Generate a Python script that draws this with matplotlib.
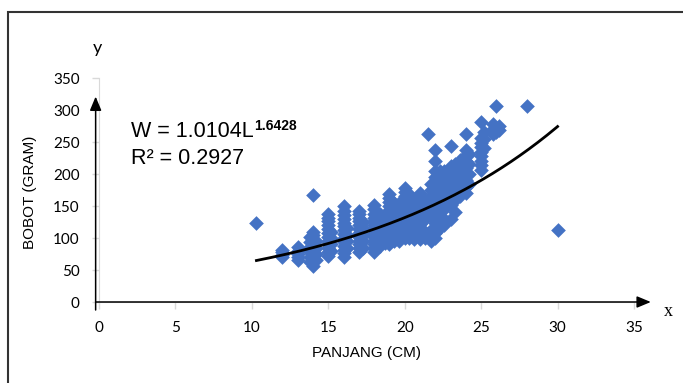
import numpy as np
import matplotlib
matplotlib.use('Agg')
import matplotlib.pyplot as plt
from matplotlib.patches import Rectangle

# panjang (cm) columns and the bobot (gram) values
col_panjang = [10.3, 12.0, 13.0, 13.8, 14.0, 14.2, 15.0, 15.2, 16.0, 16.2,
               17.0, 17.3, 18.0, 18.4, 18.7, 19.0, 19.3, 19.6, 20.0, 20.3,
               20.6, 21.0, 21.3, 21.5, 21.7, 22.0, 22.3, 22.6, 23.0, 23.3,
               23.6, 24.0, 24.2, 25.0, 25.2, 25.8, 26.0, 26.2, 28.0, 30.0]
col_bobot = [
    [124],
    [70, 74, 78, 81],
    [65, 70, 75, 80, 86],
    [62, 70, 78, 86, 94, 102],
    [57, 63, 69, 75, 81, 87, 93, 99, 105, 110, 167],
    [65, 75, 85, 95],
    [72, 78, 84, 90, 96, 102, 108, 114, 120, 126, 132, 137],
    [80, 90, 100, 110],
    [70, 76, 82, 88, 94, 100, 106, 112, 118, 124, 130, 136, 142, 150],
    [85, 95, 105, 115],
    [78, 84, 90, 96, 102, 108, 114, 120, 126, 132, 138, 142],
    [85, 95, 105, 115, 125],
    [78, 84, 90, 96, 102, 108, 114, 120, 126, 132, 138, 145, 152],
    [88, 98, 108, 118, 128, 138],
    [92, 102, 112, 122, 132],
    [90, 96, 102, 108, 114, 120, 126, 132, 138, 144, 150, 156, 162, 168],
    [95, 105, 115, 125, 135, 145, 155],
    [95, 105, 115, 125, 135, 145, 155],
    [100, 106, 112, 118, 124, 130, 136, 142, 148, 154, 160, 166, 172, 178],
    [100, 110, 120, 130, 140, 150, 160, 168],
    [98, 108, 118, 128, 138, 148, 158],
    [98, 104, 110, 116, 122, 128, 134, 140, 146, 152, 158, 164, 170],
    [100, 110, 130, 140, 150, 160],
    [262],
    [96, 104, 112, 135, 145, 155, 165, 175, 185],
    [100, 108, 116, 124, 132, 140, 148, 156, 164, 172, 180, 188, 196, 204, 220, 238],
    [115, 125, 135, 150, 165, 180, 195, 205],
    [120, 130, 145, 160, 175, 190, 205],
    [130, 152, 165, 175, 185, 195, 205, 212, 244],
    [140, 160, 175, 190, 205, 215],
    [165, 180, 195, 210, 222],
    [170, 180, 190, 200, 210, 220, 230, 238, 262],
    [185, 200, 215, 232],
    [207, 214, 221, 228, 235, 242, 249, 256, 281],
    [240, 255, 265],
    [262, 270, 278],
    [265, 272, 306],
    [268, 275],
    [306],
    [113],
]

# trendline as drawn on the picture
trend_a = 30.5
trend_b = 0.0732
trend_start = 10.3
trend_end = 30.0

x_ticks = [0, 5, 10, 15, 20, 25, 30, 35]
y_ticks = [0, 50, 100, 150, 200, 250, 300, 350]

panjang = []
bobot = []
for px, ys in zip(col_panjang, col_bobot):
    for y in ys:
        panjang.append(px)
        bobot.append(y)

fig = plt.figure(figsize=(6.83, 3.83), dpi=100)
ax = fig.add_axes([99 / 683, 1 - 302 / 383, (634 - 99) / 683, (302 - 78) / 383])

ax.scatter(panjang, bobot, marker='D', s=56, color='#4472C4', linewidths=0, zorder=2)

L = np.linspace(trend_start, trend_end, 200)
ax.plot(L, trend_a * np.exp(trend_b * L), color='black', lw=2, zorder=3)

ax.set_xlim(0, 35)
ax.set_ylim(0, 350)
ax.set_xticks(x_ticks)
ax.set_yticks(y_ticks)
for s in ['top', 'right']:
    ax.spines[s].set_visible(False)
for s in ['left', 'bottom']:
    ax.spines[s].set_color('#d9d9d9')
ax.tick_params(colors='#d9d9d9', length=5, width=1)
ax.tick_params(axis='y', pad=9)
ax.tick_params(axis='x', pad=9)
for lab in ax.get_xticklabels() + ax.get_yticklabels():
    lab.set_color('black')
    lab.set_fontfamily('Lato')
    lab.set_fontsize(11)

# black arrow axes
head = dict(arrowstyle='-|>,head_length=0.6,head_width=0.25', color='black',
            lw=1.1, mutation_scale=14, shrinkA=0, shrinkB=0)
ax.annotate('', xy=(36.1, 0), xytext=(-0.22, 0), arrowprops=head, annotation_clip=False)
ax.annotate('', xy=(-0.22, 321), xytext=(-0.22, -12.5), arrowprops=head, annotation_clip=False)

# equation
t = ax.text(2.1, 258, 'W = 1.0104L', fontsize=15.5, family='Liberation Sans')
ax.annotate('1.6428', xy=(1, 1), xycoords=t, xytext=(0.5, 1.5), textcoords='offset points',
            ha='left', va='top', fontsize=10, fontweight='bold', family='Liberation Sans')
ax.text(2.1, 216, 'R² = 0.2927', fontsize=15.5, family='Liberation Sans')

fig.text(30 / 683, 1 - 192 / 383, 'BOBOT (GRAM)', rotation=90, ha='center', va='center',
         fontsize=11, family='Liberation Sans')
fig.text(366 / 683, 1 - 353 / 383, 'PANJANG (CM)', ha='center', va='center',
         fontsize=11, family='Liberation Sans')
fig.text(97 / 683, 1 - 48 / 383, 'y', ha='center', va='center', fontsize=13, family='Lato')
fig.text(668 / 683, 1 - 312 / 383, 'x', ha='center', va='center', fontsize=13,
         family='Liberation Serif')

fig.patches.append(Rectangle((8 / 683, -0.05), 1.1, 1 - 12 / 383 + 0.05,
                             transform=fig.transFigure, fill=False,
                             edgecolor='#333333', lw=1.5, clip_on=False))

fig.savefig('out.png', dpi=100)
